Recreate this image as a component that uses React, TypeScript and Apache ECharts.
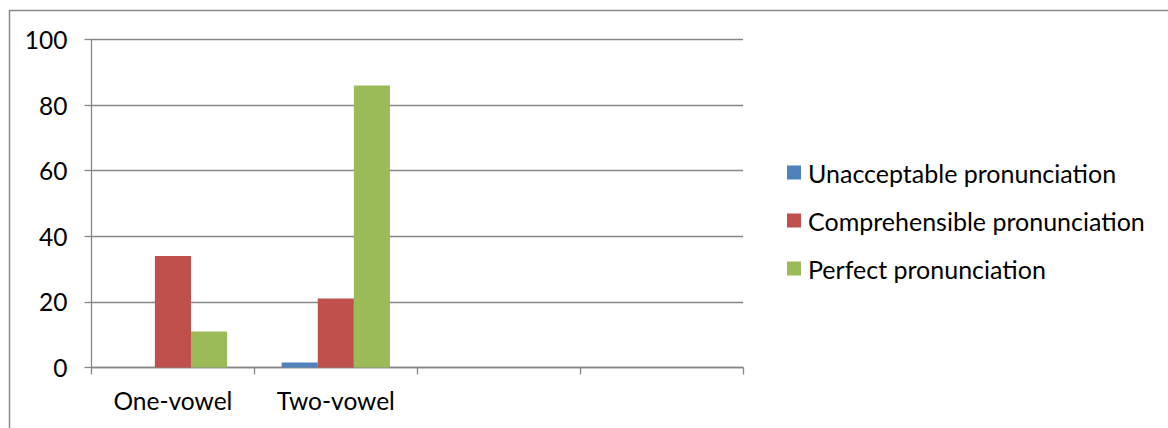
import React, { useEffect, useRef } from "react";
import * as echarts from "echarts";

// Pronunciation ratings (%) by vowel type
const categories = ["One-vowel", "Two-vowel", "", ""];
const unacceptable = [0, 1.5, null, null];
const comprehensible = [34, 21, null, null];
const perfect = [11, 86, null, null];
const yTicks = [0, 20, 40, 60, 80, 100];

const seriesNames = [
  "Unacceptable pronunciation",
  "Comprehensible pronunciation",
  "Perfect pronunciation",
];
const colors = ["#4F81BD", "#C0504D", "#9BBB59"];

const FONT = "Lato";
const GRAY = "#868686";

export default function App() {
  const ref = useRef<HTMLDivElement>(null);

  useEffect(() => {
    if (!ref.current) return;
    const chart = echarts.init(ref.current, null, { renderer: "svg" });
    const values = [unacceptable, comprehensible, perfect];
    chart.setOption({
      animation: false,
      backgroundColor: "#ffffff",
      textStyle: { fontFamily: FONT },
      graphic: [
        {
          type: "rect",
          shape: { x: 9.5, y: 10.5, width: 1200, height: 500 },
          style: { fill: "none", stroke: "#8a8a8a", lineWidth: 1.5 },
          silent: true,
        },
      ],
      grid: { left: 91.5, right: 425, top: 39.5, bottom: 60.5, containLabel: false },
      legend: {
        orient: "vertical",
        left: 782,
        top: 155,
        itemWidth: 14,
        itemHeight: 14,
        itemGap: 23,
        icon: "rect",
        data: seriesNames,
        textStyle: {
          fontFamily: FONT,
          fontSize: 25,
          lineHeight: 25,
          color: "#000",
          padding: [0, 0, 0, 2],
        },
      },
      xAxis: {
        type: "category",
        data: categories,
        boundaryGap: true,
        axisLine: { show: true, lineStyle: { color: GRAY, width: 1.3 } },
        axisTick: { show: true, length: 7, alignWithLabel: false, lineStyle: { color: GRAY, width: 1.3 } },
        axisLabel: { fontFamily: FONT, fontSize: 24.5, color: "#000", margin: 20, interval: 0 },
        splitLine: { show: false },
      },
      yAxis: {
        type: "value",
        min: 0,
        max: 100,
        interval: 20,
        axisLine: { show: true, lineStyle: { color: GRAY, width: 1.3 } },
        axisTick: { show: true, length: 7, lineStyle: { color: GRAY, width: 1.3 } },
        axisLabel: {
          fontFamily: FONT,
          fontSize: 24.5,
          color: "#000",
          margin: 24,
          formatter: (v: number) => (yTicks.includes(v) ? String(v) : ""),
        },
        splitLine: { show: true, lineStyle: { color: GRAY, width: 1.3 } },
      },
      series: seriesNames.map((name, i) => ({
        name,
        type: "bar",
        data: values[i],
        barGap: "0%",
        barCategoryGap: "33.5%",
        itemStyle: { color: colors[i] },
      })),
    });
    return () => chart.dispose();
  }, []);

  return (
    <div
      ref={ref}
      style={{ position: "fixed", left: 0, top: 0, width: 1168, height: 428 }}
    />
  );
}
